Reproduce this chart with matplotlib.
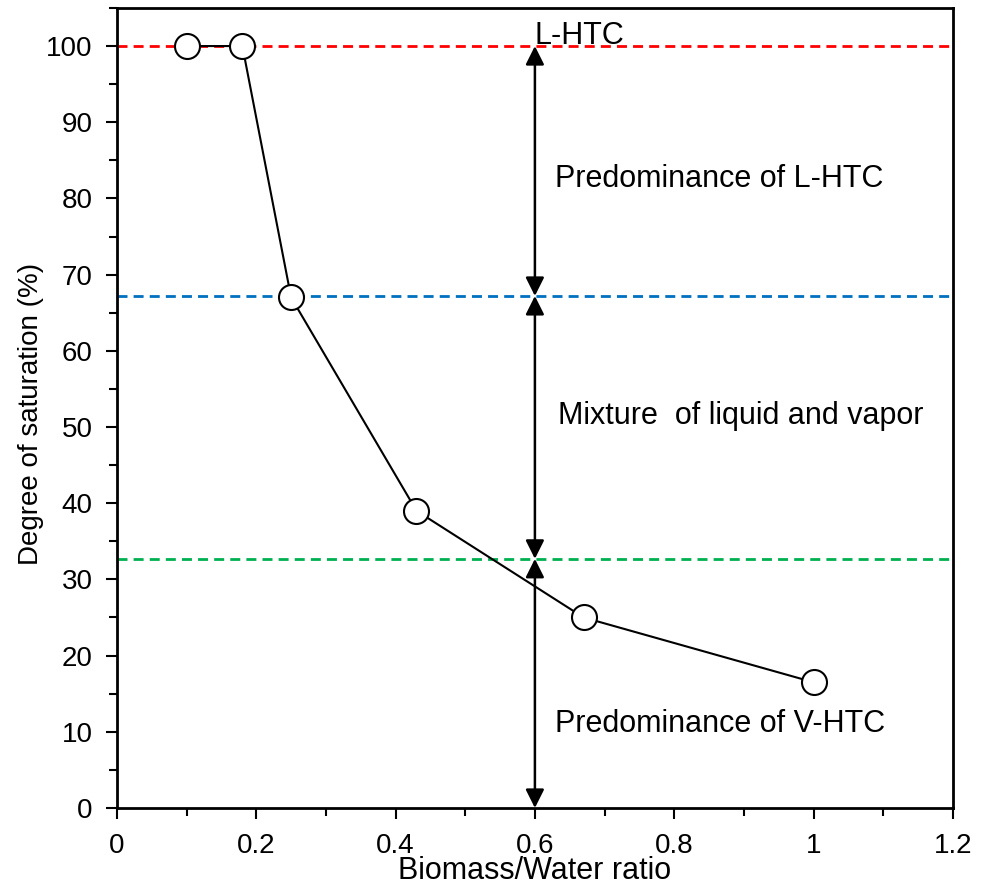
import numpy as np
import matplotlib
matplotlib.use('Agg')
import matplotlib.pyplot as plt
from matplotlib.ticker import MultipleLocator

plt.rcParams['font.family'] = ['Liberation Sans', 'DejaVu Sans']

# data
ratio = [0.1, 0.18, 0.25, 0.43, 0.67, 1.0]
saturation = [100, 100, 67, 39, 25, 16.5]

# region boundaries
l_htc_level = 100
mix_level = 67.2
v_htc_level = 32.7
arrow_x = 0.6

region_labels = ['Predominance of L-HTC', 'Mixture  of liquid and vapor', 'Predominance of V-HTC']
region_x = [0.865, 0.895, 0.866]
region_y = [82.6, 51.4, 11.0]

fig = plt.figure(figsize=(9.88, 8.84), dpi=100)
ax = fig.add_axes([0.1184, 0.086, 0.846, 0.905])

dash = (0, (3.6, 2.2))
ax.axhline(l_htc_level, color='#ff0000', linestyle=dash, linewidth=2, zorder=1)
ax.axhline(mix_level, color='#0070c0', linestyle=dash, linewidth=2, zorder=1)
ax.axhline(v_htc_level, color='#00b050', linestyle=dash, linewidth=2, zorder=1)

ax.plot(ratio, saturation, color='black', linewidth=1.5, marker='o', markersize=18,
        markerfacecolor='white', markeredgecolor='black', markeredgewidth=1.5, zorder=3)

# double arrows between regions
levels = [l_htc_level, mix_level, v_htc_level, 0]
for top, bot in zip(levels[:-1], levels[1:]):
    ax.annotate('', xy=(arrow_x, bot), xytext=(arrow_x, top),
                arrowprops=dict(arrowstyle='<|-|>', color='black', lw=1.8,
                                mutation_scale=28, shrinkA=0, shrinkB=0), zorder=2)

ax.text(arrow_x, 100.3, 'L-HTC', fontsize=22, ha='left', va='baseline')
for lab, tx, ty in zip(region_labels, region_x, region_y):
    ax.text(tx, ty, lab, fontsize=22, ha='center', va='center')

ax.set_xlim(0, 1.2)
ax.set_ylim(0, 105)
ax.set_xticks([0, 0.2, 0.4, 0.6, 0.8, 1.0, 1.2])
ax.set_xticklabels(['0', '0.2', '0.4', '0.6', '0.8', '1', '1.2'])
ax.set_yticks(np.arange(0, 101, 10))
ax.xaxis.set_minor_locator(MultipleLocator(0.1))
ax.yaxis.set_minor_locator(MultipleLocator(5))
ax.tick_params(which='both', direction='out', width=1.5, labelsize=20)
ax.tick_params(which='major', length=8)
ax.tick_params(which='minor', length=6)
ax.tick_params(axis='y', pad=9.5)
ax.tick_params(axis='x', pad=10)
for sp in ax.spines.values():
    sp.set_linewidth(2)

ax.set_xlabel('Biomass/Water ratio', fontsize=22, labelpad=-2)
ax.set_ylabel('Degree of saturation (%)', fontsize=20)
ax.yaxis.set_label_coords(-0.0873, 0.4925)

plt.savefig('out.png', dpi=100)
